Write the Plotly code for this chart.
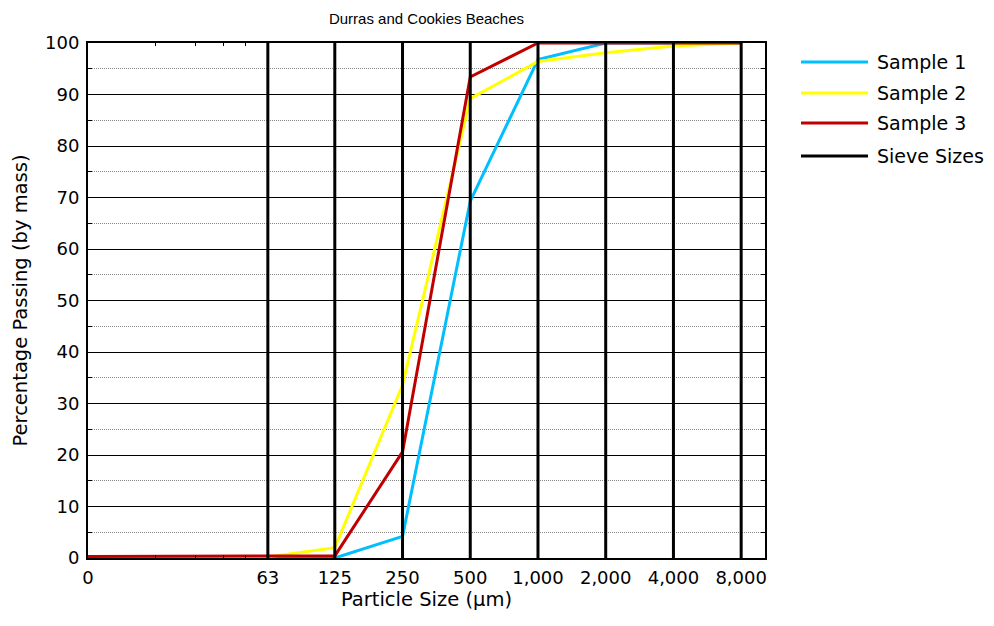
import plotly.graph_objects as go

# Sieve apertures in micrometres (0 = pan)
sizes = [0, 63, 125, 250, 500, 1000, 2000, 4000, 8000]
size_labels = ["0", "63", "125", "250", "500", "1,000", "2,000", "4,000", "8,000"]

# Cumulative percentage passing (by mass) at each sieve
sample_1 = [0, 0, 0, 4.2, 69.3, 96.8, 100, 100, 100]
sample_2 = [0, 0.2, 2.0, 33.6, 89.2, 96.4, 98.1, 99.4, 100]
sample_3 = [0.3, 0.3, 0.4, 20.6, 93.4, 100, 100, 100, 100]

sample_names = ["Sample 1", "Sample 2", "Sample 3"]
sample_colors = ["#00BFFF", "#FFFF00", "#C00000"]

# The pan (size 0) is placed at 10 µm on the log axis
PAN_POS = 10
x_pos = [s if s > 0 else PAN_POS for s in sizes]

fig = go.Figure()

for name, vals, col in zip(sample_names, [sample_1, sample_2, sample_3], sample_colors):
    fig.add_trace(go.Scatter(x=x_pos, y=vals, mode="lines", name=name,
                             line=dict(color=col, width=3), showlegend=False))

# Vertical lines at each sieve size
sx, sy = [], []
for s in sizes[1:]:
    sx += [s, s, None]
    sy += [0, 100, None]
fig.add_trace(go.Scatter(x=sx, y=sy, mode="lines", name="Sieve Sizes",
                         line=dict(color="black", width=3), showlegend=False))

font = "DejaVu Sans, Verdana, sans-serif"
title_font = "Liberation Sans, Arial, sans-serif"

# Legend drawn beside the plot area
legend_items = list(zip(sample_names + ["Sieve Sizes"], sample_colors + ["black"]))
L, R, T, B = 88, 765, 43, 558
W, H = R - L, B - T
legend_y = [62, 93, 123, 156]
for (name, col), py in zip(legend_items, legend_y):
    yp = (B - py) / H
    fig.add_shape(type="line", xref="paper", yref="paper",
                  x0=(801 - L) / W, x1=(868 - L) / W, y0=yp, y1=yp,
                  line=dict(color=col, width=3))
    fig.add_annotation(xref="paper", yref="paper", x=(875 - L) / W, y=yp,
                       text=name, showarrow=False, xanchor="left", yanchor="middle",
                       font=dict(size=19, color="black", family=font))

fig.update_layout(
    width=994, height=626,
    margin=dict(l=L, r=994 - R, t=T, b=626 - B),
    paper_bgcolor="white", plot_bgcolor="white",
    font=dict(family=font, size=18, color="black"),
    title=dict(text="Durras and Cookies Beaches", x=(L + R) / 2 / 994, xanchor="center",
               y=1 - 19 / 626, yanchor="middle", font=dict(size=15, family=title_font)),
    xaxis=dict(
        type="log", range=[1, 4.009],
        tickvals=x_pos, ticktext=size_labels, tickfont=dict(size=18),
        ticks="inside", ticklen=5, tickcolor="black", ticklabelstandoff=2,
        showgrid=False, zeroline=False,
        showline=True, linecolor="black", linewidth=2, mirror="ticks",
        minor=dict(ticks="inside", ticklen=3, tickcolor="black",
                   tickvals=[20, 30, 40, 50], showgrid=False),
        title=dict(text="Particle Size (\u03bcm)", standoff=4, font=dict(size=19.5)),
    ),
    yaxis=dict(
        range=[0, 100], tickvals=list(range(0, 101, 10)), tickfont=dict(size=18),
        ticks="inside", ticklen=6, tickcolor="black", ticklabelstandoff=3,
        showgrid=True, gridcolor="black", gridwidth=1.2, zeroline=False,
        showline=True, linecolor="black", linewidth=2, mirror="ticks",
        minor=dict(tickvals=list(range(5, 100, 10)), ticks="inside", ticklen=4,
                   tickcolor="black", showgrid=True, gridcolor="#888888",
                   griddash="1px,1px", gridwidth=1),
        title=dict(text="Percentage Passing (by mass)", standoff=12, font=dict(size=19.5)),
    ),
)

fig.write_html("out.html")
